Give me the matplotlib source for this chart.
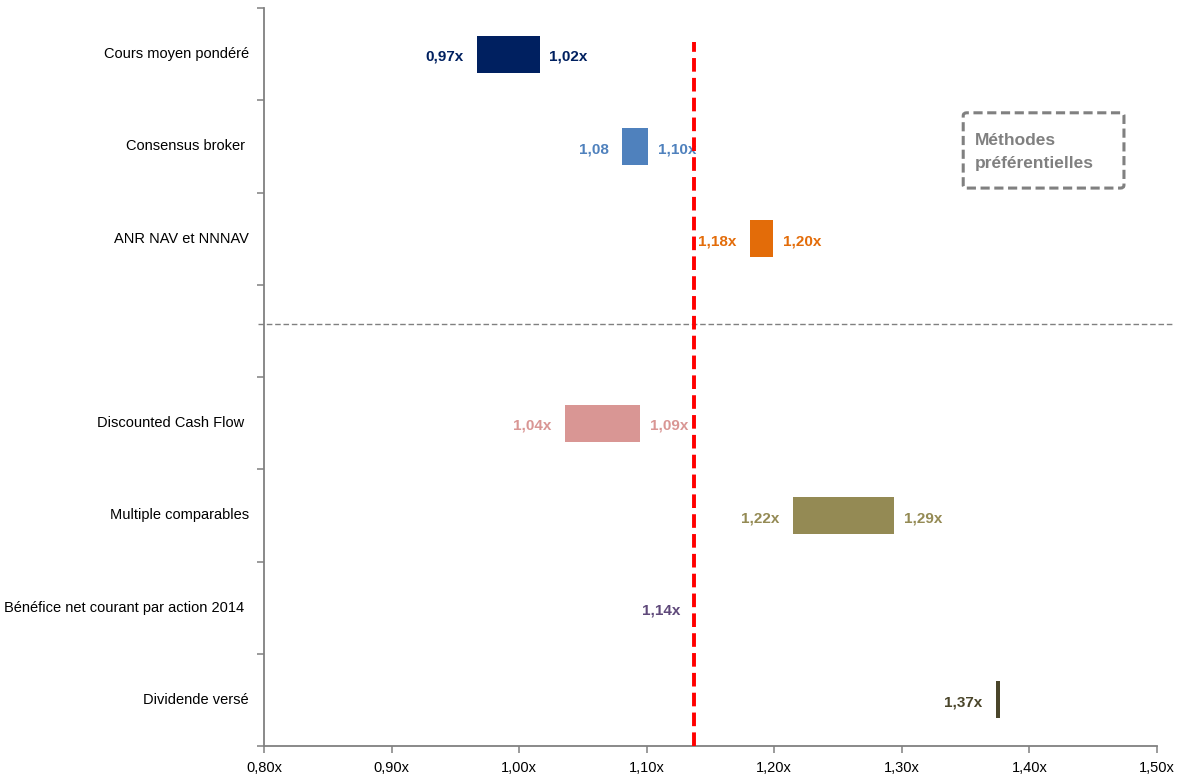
import matplotlib.pyplot as plt
from matplotlib.patches import FancyBboxPatch

plt.rcParams['font.family'] = ['Liberation Sans Narrow', 'Liberation Sans', 'DejaVu Sans']

##############

categories = ["Cours moyen pondéré", "Consensus broker ", "ANR NAV et NNNAV", "",
              "Discounted Cash Flow ", "Multiple comparables",
              "Bénéfice net courant par action 2014 ", "Dividende versé"]
low = [0.967, 1.081, 1.181, None, 1.036, 1.215, 1.137, 1.374]
high = [1.016, 1.101, 1.199, None, 1.095, 1.294, 1.137, 1.377]
low_labels = ["0,97x", "1,08", "1,18x", "", "1,04x", "1,22x", "1,14x", "1,37x"]
high_labels = ["1,02x", "1,10x", "1,20x", "", "1,09x", "1,29x", "", ""]
colors = ["#002060", "#4F81BD", "#E36C09", None, "#D99694", "#948A54", "#5F497A", "#4A452A"]
ref_value = 1.137
x_ticks = [0.80, 0.90, 1.00, 1.10, 1.20, 1.30, 1.40, 1.50]
x_tick_labels = ["0,80x", "0,90x", "1,00x", "1,10x", "1,20x", "1,30x", "1,40x", "1,50x"]

##############

fig = plt.figure(figsize=(11.84, 7.78), dpi=100)
ax = fig.add_axes([264/1184, 1 - 746/778, (1157 - 264)/1184, (746 - 8)/778])

for i, (lo, hi, c) in enumerate(zip(low, high, colors)):
    if lo is None:
        continue
    ax.barh(i, hi - lo, left=lo, height=0.4, color=c, edgecolor='none', zorder=2)
    ax.annotate(low_labels[i], (lo, i), xytext=(-10, -2), textcoords='offset points',
                ha='right', va='center', fontsize=11, fontweight='bold', color=c)
    if high_labels[i]:
        ax.annotate(high_labels[i], (hi, i), xytext=(7, -2), textcoords='offset points',
                    ha='left', va='center', fontsize=11, fontweight='bold', color=c)

for i, cat in enumerate(categories):
    ax.annotate(cat, (0, i), xycoords=('axes fraction', 'data'), xytext=(-11, 0),
                textcoords='offset points', ha='right', va='center', fontsize=10.5, color='black')

ax.axvline(ref_value, ymin=0, ymax=0.954, color='#FF0000', lw=2.8, ls=(0, (3.5, 1.6)), zorder=3)
ax.axhline(2.93, xmin=-0.007, xmax=1.017, color='#808080', lw=1, ls=(0, (4, 2)), clip_on=False)

box = FancyBboxPatch((0.783, 0.756), 0.180, 0.102, boxstyle='round,pad=0,rounding_size=0.004',
                     transform=ax.transAxes, fill=False, edgecolor='#808080', lw=2.2,
                     ls=(0, (3, 1.5)))
ax.add_patch(box)
ax.text(0.796, 0.821, "Méthodes", transform=ax.transAxes, ha='left', va='center',
        fontsize=12.5, fontweight='bold', color='#808080')
ax.text(0.796, 0.789, "préférentielles", transform=ax.transAxes, ha='left', va='center',
        fontsize=12.5, fontweight='bold', color='#808080')

ax.set_xlim(0.80, 1.50)
ax.set_ylim(7.5, -0.5)
ax.set_xticks(x_ticks)
ax.set_xticklabels(x_tick_labels, fontsize=10.5)
ax.set_yticks([i - 0.5 for i in range(9)])
ax.set_yticklabels([])
for side in ['top', 'right']:
    ax.spines[side].set_visible(False)
for side in ['left', 'bottom']:
    ax.spines[side].set_color('#808080')
    ax.spines[side].set_linewidth(1.3)
ax.tick_params(axis='both', colors='#808080', length=5, width=1.1, labelcolor='black')
ax.tick_params(axis='x', pad=6)

fig.savefig('out.png', dpi=100)
